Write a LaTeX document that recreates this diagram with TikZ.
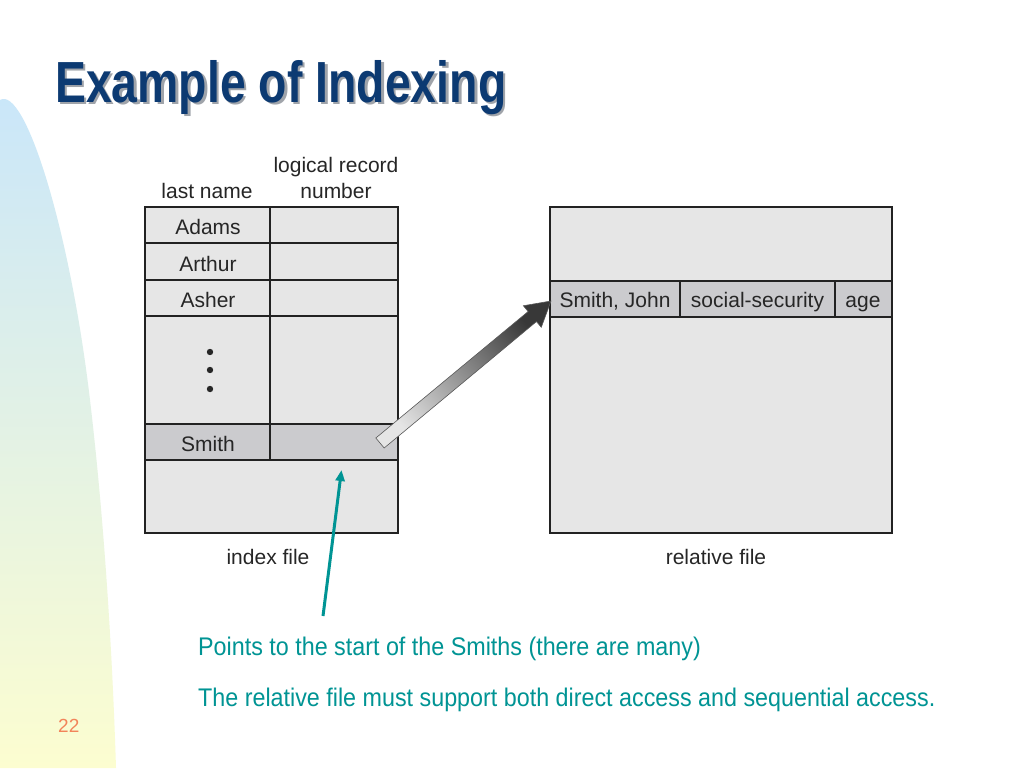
\documentclass[tikz,border=0pt]{standalone}
\usepackage{fontspec}
\setmainfont{Liberation Sans}
\newfontfamily\titlefont{Liberation Sans}[FakeStretch=0.8]
\newfontfamily\notefont{Liberation Sans}[FakeStretch=0.914]
\usetikzlibrary{arrows.meta,calc}
\definecolor{titleblue}{HTML}{0C3A72}
\definecolor{titleshadow}{HTML}{A0A4AA}
\definecolor{noteteal}{HTML}{009494}
\definecolor{cellgray}{HTML}{E6E6E6}
\definecolor{rowgray}{HTML}{CBCBCE}
\definecolor{linedark}{HTML}{222222}
\definecolor{decoblue}{HTML}{C9E6FA}
\definecolor{decoyellow}{HTML}{FCFDD0}
\definecolor{pagenum}{HTML}{F2845A}
\tikzset{
  tbl/.style={draw=linedark, line width=1.8pt},
  lbl/.style={font=\fontsize{21}{24}\selectfont, text=black!85, inner sep=0pt, anchor=base},
  note/.style={font=\notefont\fontsize{25.5}{30}\selectfont, text=noteteal, inner sep=0pt, anchor=base west},
  dotmark/.style={fill=black!85},
}
\begin{document}
\begin{tikzpicture}[x=1pt,y=-1pt]
\useasboundingbox (0,0) rectangle (1024,768);
\fill[white] (0,0) rectangle (1024,768);
% left decoration
\shade[top color=decoblue, bottom color=decoyellow]
  (0,768) -- (0,100) .. controls (25,85) and (70,230) .. (90,400)
  .. controls (103,510) and (112,640) .. (116,768) -- cycle;
% title
\node[font=\titlefont\bfseries\fontsize{58}{64}\selectfont, text=titleshadow, inner sep=0pt, anchor=base west] (titleshadow) at (57.5,104.5) {Example of Indexing};
\node[font=\titlefont\bfseries\fontsize{58}{64}\selectfont, text=titleblue, inner sep=0pt, anchor=base west] (title) at (55,102) {Example of Indexing};
% index file
\draw[tbl, fill=cellgray] (145,207) rectangle (398,533);
\draw[tbl, fill=rowgray] (145,424) rectangle (398,460);
\draw[tbl] (145,243) -- (398,243);
\draw[tbl] (145,280) -- (398,280);
\draw[tbl] (145,316) -- (398,316);
\draw[tbl] (270,207) -- (270,460);
\node[lbl] (hlast) at (207,198) {last name};
\node[lbl] (hlog) at (336,172) {logical record};
\node[lbl] (hnum) at (336,198) {number};
\node[lbl] (adams) at (208,234) {Adams};
\node[lbl] (arthur) at (208,271) {Arthur};
\node[lbl] (asher) at (208,307) {Asher};
\node[lbl] (smith) at (208,451) {Smith};
\fill[dotmark] (210,352) circle (3.2);
\fill[dotmark] (210,370) circle (3.2);
\fill[dotmark] (210,389) circle (3.2);
\node[lbl] (indexlbl) at (268,564) {index file};
% relative file
\draw[tbl, fill=cellgray] (550,207) rectangle (892,533);
\draw[tbl, fill=rowgray] (550,281) rectangle (892,317);
\draw[tbl] (680,281) -- (680,317);
\draw[tbl] (835,281) -- (835,317);
\node[lbl] (sj) at (615,307) {Smith, John};
\node[lbl] (ss) at (757.5,307) {social-security};
\node[lbl] (age) at (863,307) {age};
\node[lbl] (rellbl) at (716,564) {relative file};
% big pointer arrow
\coordinate (T) at (380,443);
\coordinate (P) at (551,301);
\coordinate (S) at ($(T)!198pt!(P)$);
\shade[top color=black!78, bottom color=black!10, shading angle=-50, draw=black!65, line width=0.6pt]
  ($(T)!6.5pt!-90:(P)$) -- ($(S)!6.5pt!-90:(P)$) -- ($(S)!14pt!-90:(P)$) -- (P)
  -- ($(S)!14pt!90:(P)$) -- ($(S)!6.5pt!90:(P)$) -- ($(T)!6.5pt!90:(P)$) -- cycle;
% teal arrow
\coordinate (tealtail) at (323,616);
\coordinate (tealtip) at (341.5,470);
\draw[noteteal, line width=3pt, -{Triangle[length=11pt,width=9pt]}] (tealtail) -- (tealtip);
% notes
\node[note] (note1) at (198,655) {Points to the start of the Smiths (there are many)};
\node[note] (note2) at (198,706) {The relative file must support both direct access and sequential access.};
\node[font=\fontsize{19}{22}\selectfont, text=pagenum, inner sep=0pt, anchor=base west] (pnum) at (58,732) {22};
\end{tikzpicture}
\end{document}
